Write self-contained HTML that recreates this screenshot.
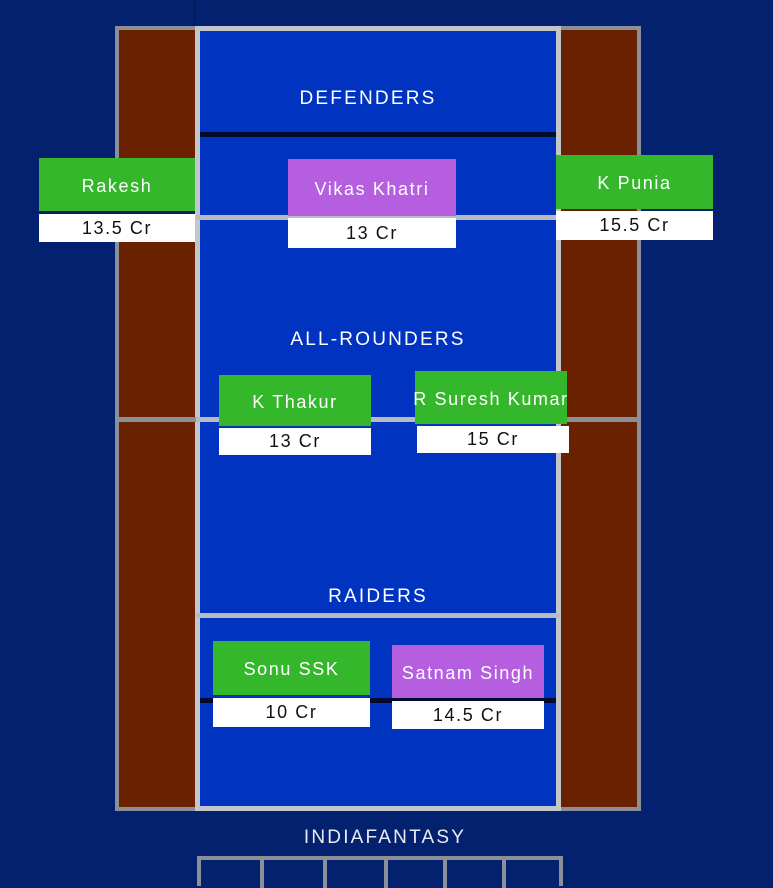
<!DOCTYPE html>
<html><head><meta charset="utf-8"><style>
*{margin:0;padding:0;box-sizing:border-box}
body{width:773px;height:879px;background:#04216f;position:relative;overflow:hidden;font-family:"Liberation Sans",sans-serif}
.a{position:absolute}
.lbl{position:absolute;color:#fff;font-size:19px;letter-spacing:2.2px;text-align:center;transform:translateX(-50%);white-space:nowrap}
.c{position:absolute;color:#fff;font-size:18px;letter-spacing:1.6px;display:flex;align-items:center;justify-content:center;white-space:nowrap;overflow:visible;padding-top:3px}
.w{position:absolute;background:#fff;color:#111;font-size:18px;letter-spacing:1.6px;display:flex;align-items:center;justify-content:center}
.g{background:#35b72b}.p{background:#b55fe0}
</style></head><body>
<div class="a" style="left:194px;top:0;width:2px;height:26px;background:#031a5c"></div>
<div class="a" style="left:115px;top:26px;width:526px;height:785px;border:4px solid #8b8f98;background:#6a2100"></div>
<div class="a" style="left:195px;top:26px;width:366px;height:785px;border:5px solid #c3c7cc;background:#0034c0"></div>
<div class="a" style="left:200px;top:132px;width:356px;height:5px;background:#020a2e"></div>
<div class="a" style="left:196px;top:215px;width:364px;height:5px;background:#b8bcc2"></div>
<div class="a" style="left:118px;top:417px;width:521px;height:5px;background:#8b8f98"></div>
<div class="a" style="left:196px;top:417px;width:364px;height:5px;background:#b8bcc2"></div>
<div class="a" style="left:196px;top:613px;width:364px;height:5px;background:#b8bcc2"></div>
<div class="a" style="left:200px;top:698px;width:356px;height:5px;background:#020a2e"></div>
<div class="lbl" style="left:368px;top:88px">DEFENDERS</div>
<div class="lbl" style="left:378px;top:329px">ALL-ROUNDERS</div>
<div class="lbl" style="left:378px;top:586px">RAIDERS</div>
<div class="lbl" style="left:385px;top:827px;color:#e8ecf4">INDIAFANTASY</div>
<div class="a" style="left:197px;top:856px;width:366px;height:30px;border:4px solid #8b8f98;border-bottom:none"></div>
<div class="a" style="left:260px;top:858px;width:4px;height:30px;background:#8b8f98"></div>
<div class="a" style="left:323px;top:858px;width:4px;height:30px;background:#8b8f98"></div>
<div class="a" style="left:384px;top:858px;width:4px;height:30px;background:#8b8f98"></div>
<div class="a" style="left:443px;top:858px;width:4px;height:30px;background:#8b8f98"></div>
<div class="a" style="left:502px;top:858px;width:4px;height:30px;background:#8b8f98"></div>
<div class="c g" style="left:39px;top:158px;width:156px;height:53px">Rakesh</div>
<div class="a" style="left:39px;top:211px;width:156px;height:3px;background:#0a2060"></div>
<div class="w" style="left:39px;top:214px;width:156px;height:28px">13.5 Cr</div>
<div class="c p" style="left:288px;top:159px;width:168px;height:57px">Vikas Khatri</div>
<div class="w" style="left:288px;top:218px;width:168px;height:30px">13 Cr</div>
<div class="c g" style="left:556px;top:155px;width:157px;height:54px">K Punia</div>
<div class="w" style="left:556px;top:211px;width:157px;height:29px">15.5 Cr</div>
<div class="c g" style="left:219px;top:375px;width:152px;height:51px">K Thakur</div>
<div class="w" style="left:219px;top:428px;width:152px;height:27px">13 Cr</div>
<div class="c g" style="left:415px;top:371px;width:152px;height:53px">R Suresh Kumar</div>
<div class="w" style="left:417px;top:426px;width:152px;height:27px">15 Cr</div>
<div class="c g" style="left:213px;top:641px;width:157px;height:54px">Sonu SSK</div>
<div class="w" style="left:213px;top:698px;width:157px;height:29px">10 Cr</div>
<div class="c p" style="left:392px;top:645px;width:152px;height:53px">Satnam Singh</div>
<div class="w" style="left:392px;top:701px;width:152px;height:28px">14.5 Cr</div>
</body></html>
